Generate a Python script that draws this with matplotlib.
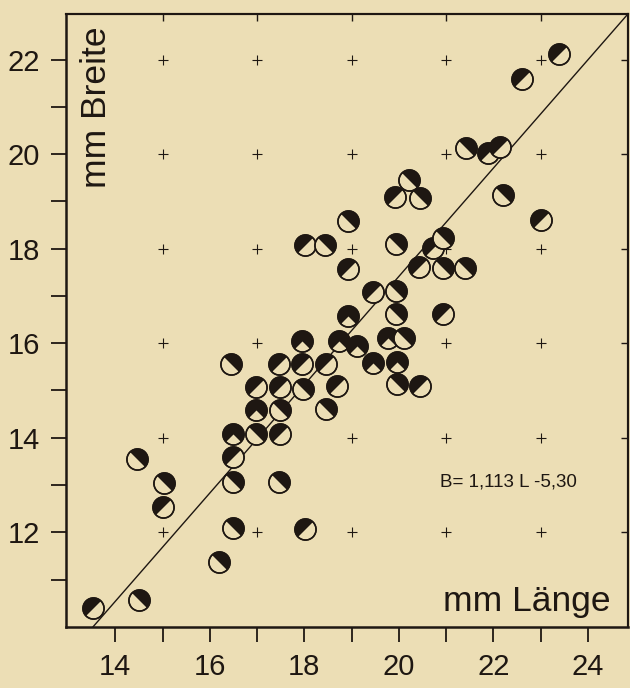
import matplotlib
matplotlib.use("Agg")
import matplotlib.pyplot as plt
from matplotlib.markers import MarkerStyle

# Messwerte: Laenge und Breite (mm), Art der Halbfuellung
laenge = [13.53, 14.51, 14.46, 15.02, 15.00, 16.20, 16.50, 16.48, 16.48, 16.48,
          16.97, 17.48, 16.97, 17.48, 16.97, 17.48, 17.97, 16.45, 17.47, 17.96,
          17.96, 18.46, 18.69, 18.46, 18.02, 17.47, 18.93, 18.74, 19.12, 19.46,
          19.96, 19.96, 20.45, 19.78, 20.11, 19.93, 20.94, 19.45, 19.94, 20.42,
          20.94, 21.40, 20.73, 20.94, 19.93, 18.93, 18.02, 18.44, 18.93, 19.92,
          20.44, 20.21, 22.21, 23.00, 21.42, 21.88, 22.15, 22.61, 23.39]
breite = [10.39, 10.56, 13.55, 13.05, 12.53, 11.38, 12.09, 13.06, 13.60, 14.08,
          14.08, 14.08, 14.59, 14.59, 15.07, 15.08, 15.04, 15.56, 15.56, 15.56,
          16.05, 15.56, 15.10, 14.60, 12.06, 13.06, 16.57, 16.05, 15.93, 15.59,
          15.60, 15.13, 15.09, 16.12, 16.12, 16.61, 16.61, 17.09, 17.10, 17.61,
          17.60, 17.60, 18.02, 18.22, 18.09, 17.57, 18.07, 18.07, 18.59, 19.09,
          19.07, 19.46, 19.13, 18.61, 20.12, 20.03, 20.16, 21.58, 22.11]
haelfte = ['A', 'B', 'B', 'B', 'A', 'B', 'B', 'B', 'A', 'C',
           'B', 'A', 'C', 'B', 'A', 'A', 'B', 'B', 'A', 'A',
           'C', 'A', 'A', 'B', 'A', 'B', 'C', 'C', 'C', 'C',
           'C', 'B', 'A', 'C', 'B', 'B', 'A', 'A', 'B', 'A',
           'B', 'B', 'A', 'B', 'B', 'A', 'A', 'B', 'B', 'A',
           'B', 'B', 'B', 'A', 'B', 'A', 'A', 'A', 'A']

# Hilfskreuze
gitter_x = [15, 17, 19, 21, 23]
gitter_y = [12, 14, 16, 18, 20, 22]

# Ausgleichsgerade (wie gezeichnet)
linie_x = [13.53, 24.85]
linie_y = [10.0, 22.97]
formel = "B= 1,113 L -5,30"

papier = '#ecdeb5'
tinte = '#1e1712'

plt.rcParams['font.family'] = ['Liberation Sans', 'DejaVu Sans']

fig = plt.figure(figsize=(6.3, 6.88), dpi=100, facecolor=papier)
ax = fig.add_axes([0.105, 0.089, 0.892, 0.891])
ax.set_facecolor(papier)
ax.set_xlim(12.96, 24.85)
ax.set_ylim(10.0, 22.97)

for gx in gitter_x:
    ax.plot([gx] * len(gitter_y), gitter_y, linestyle='none', marker='+',
            ms=7, mew=0.8, color=tinte, zorder=1)

ax.plot(linie_x, linie_y, color=tinte, lw=1.0, zorder=2)

# A: schwarz oben links, B: schwarz oben rechts, C: beide (Doppelwert)
drehung = {'A': [-45], 'B': [-135], 'C': [-45, -135]}


def kreis(x, y, h, ms, z):
    ax.plot(x, y, marker='o', ms=ms, mfc=papier, mec=tinte, mew=1.1, zorder=z)
    for w in drehung[h]:
        m = MarkerStyle('o', fillstyle='left').rotated(deg=w)
        ax.plot(x, y, marker=m, ms=ms, mfc=tinte, mfcalt='none',
                mec='none', mew=0, zorder=z + 0.001)
    ax.plot(x, y, marker='o', ms=ms, mfc='none', mec=tinte, mew=1.1, zorder=z + 0.002)


for i, (x, y, h) in enumerate(zip(laenge, breite, haelfte)):
    kreis(x, y, h, 15.2, 3 + i * 0.01)

ax.text(20.87, 12.97, formel, fontsize=13.5, color=tinte, va='baseline', ha='left')
ax.text(20.93, 10.33, "mm Länge", fontsize=25.5, color=tinte, va='baseline', ha='left')
ax.text(13.26, 22.70, "mm Breite", fontsize=25.5, color=tinte, rotation=90,
        va='top', ha='left')

ax.set_xticks(range(14, 25, 2))
ax.set_xticks(range(15, 25, 2), minor=True)
ax.set_yticks(range(12, 23, 2))
ax.set_yticks(range(11, 23, 2), minor=True)
ax.tick_params(which='both', direction='out', length=11, width=1.3, color=tinte,
               labelsize=21, labelcolor=tinte, pad=8)

for s in ['left', 'bottom']:
    ax.spines[s].set_linewidth(1.8)
for s in ['top', 'right']:
    ax.spines[s].set_linewidth(1.5)
for s in ax.spines.values():
    s.set_color(tinte)

oben = ax.secondary_xaxis('top')
oben.set_xticks(gitter_x)
oben.tick_params(direction='in', length=5, width=1.0, color=tinte, labeltop=False)
oben.spines['top'].set_linewidth(1.5)
oben.spines['top'].set_color(tinte)

rechts = ax.secondary_yaxis('right')
rechts.set_yticks(gitter_y)
rechts.tick_params(direction='in', length=5, width=1.0, color=tinte, labelright=False)
rechts.spines['right'].set_linewidth(1.5)
rechts.spines['right'].set_color(tinte)

fig.savefig('out.png', dpi=100, facecolor=papier)
